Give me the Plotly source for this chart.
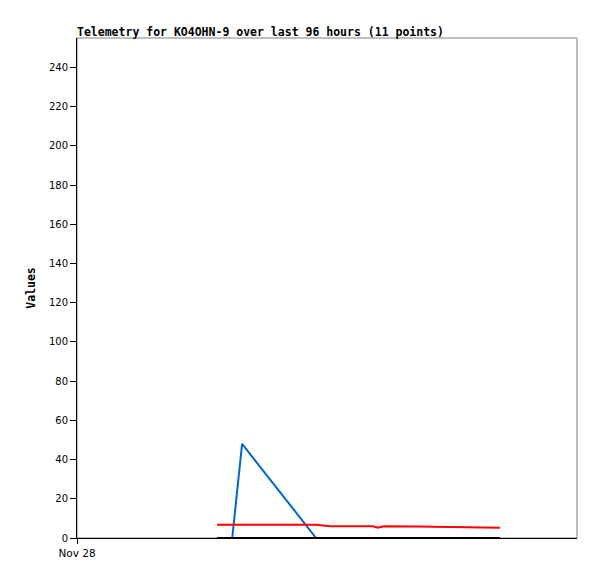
"""
Telemetry chart for KO4OHN-9.
"""

import pandas as pd
import plotly.graph_objects as go

START = pd.Timestamp("2023-11-28 00:00")
END = START + pd.Timedelta(hours=96)

# hours after Nov 28 00:00 for each telemetry packet
hours = [26.9, 29.8, 31.7, 45.9, 48.6, 56.8, 57.8, 58.9, 65.3, 75.6, 81.2]
ch_blue = [0, 0, 48, 0, 0, 0, 0, 0, 0, 0, 0]
ch_red = [6.7, 6.7, 6.7, 6.7, 6.0, 6.0, 5.3, 6.0, 5.9, 5.6, 5.2]
ch_black = [0, 0, 0, 0, 0, 0, 0, 0, 0, 0, 0]

y_ticks = list(range(0, 241, 20))
x_tick_labels = ["Nov 28"]

times = [START + pd.Timedelta(hours=h) for h in hours]

MONO = "DejaVu Sans Mono"

fig = go.Figure()
fig.add_trace(go.Scatter(x=times, y=ch_blue, mode="lines",
                         line=dict(color="#0066CC", width=2)))
fig.add_trace(go.Scatter(x=times, y=ch_red, mode="lines",
                         line=dict(color="#FF0000", width=2)))
fig.add_trace(go.Scatter(x=times, y=ch_black, mode="lines",
                         line=dict(color="#000000", width=2)))

# page body has an 8px margin, so the figure is shrunk and shifted by that
fig.update_layout(
    width=589, height=571,
    margin=dict(l=69, r=20, t=30, b=41),
    paper_bgcolor="white", plot_bgcolor="white",
    showlegend=False,
    font=dict(family=MONO, size=10, color="black"),
    title=dict(text="<b>Telemetry for KO4OHN-9 over last 96 hours (11 points)</b>",
               x=69 / 589, xanchor="left", y=1 - 23.5 / 571, yanchor="middle",
               font=dict(family=MONO, size=11.5, color="black")),
    shapes=[dict(type="rect", xref="paper", yref="paper", x0=0, x1=1, y0=0, y1=1,
                 line=dict(color="#808080", width=1), layer="below")],
)
fig.update_xaxes(
    range=[START, END], showgrid=False, zeroline=False,
    showline=True, linecolor="black", linewidth=1,
    tickvals=[START], ticktext=x_tick_labels,
    ticks="outside", ticklen=5, tickcolor="black",
    tickfont=dict(family="DejaVu Sans", size=10.5),
)
fig.update_yaxes(
    range=[0, 255], showgrid=False, zeroline=False,
    showline=True, linecolor="black", linewidth=1,
    tickvals=y_ticks, ticks="outside", ticklen=6, tickcolor="black",
    tickfont=dict(family="DejaVu Sans", size=10),
    title=dict(text="<b>Values</b>", standoff=10,
               font=dict(family=MONO, size=11.5)),
)

fig.write_html("out.html")
